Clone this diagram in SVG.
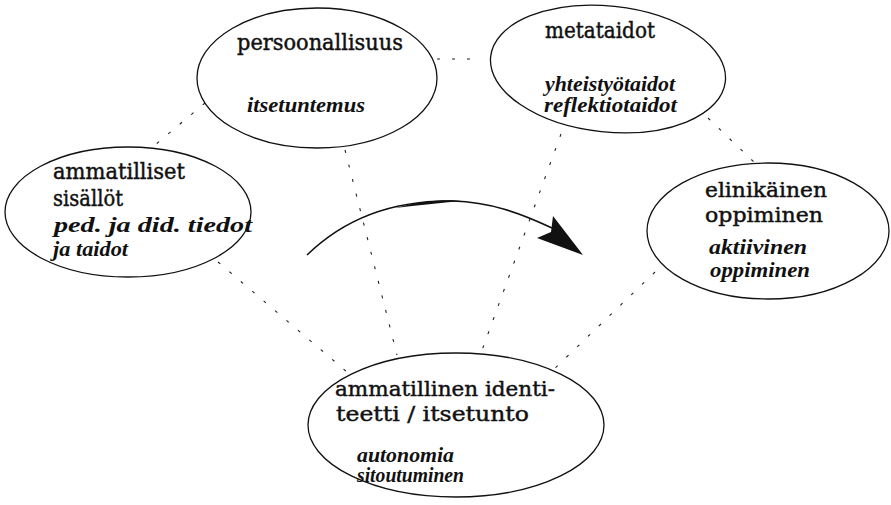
<svg xmlns="http://www.w3.org/2000/svg" width="891" height="505" viewBox="0 0 891 505">
<style>
.node ellipse{fill:none;stroke:#111;stroke-width:1.3}
.h{font-family:"DejaVu Serif","Liberation Serif",serif;font-size:22px;fill:#111;stroke:#111;stroke-width:0.45}
.h2{font-size:20.5px}
.s{font-family:"Liberation Serif","DejaVu Serif",serif;font-style:italic;font-weight:bold;font-size:20px;fill:#111}
.dot{fill:none;stroke:#222;stroke-width:1.1;stroke-dasharray:3 12}
</style>
<rect width="891" height="505" fill="#fff"/>
<g id="connectors">
<line class="dot" x1="205" y1="103" x2="155" y2="145"/>
<line class="dot" x1="437" y1="59" x2="480" y2="59"/>
<line class="dot" x1="345" y1="150" x2="397" y2="355"/>
<line class="dot" x1="561" y1="134" x2="481" y2="353"/>
<line class="dot" x1="218" y1="262" x2="347" y2="372"/>
<line class="dot" x1="708" y1="118" x2="756" y2="164"/>
<line class="dot" x1="655" y1="272" x2="550" y2="373"/>
</g>
<g id="arrow">
<path d="M307,255 C345,218 395,200 453,201 C490,202 520,213 552,228" fill="none" stroke="#111" stroke-width="1.6"/>
<path d="M395,208 C420,201 445,199 462,201 C440,203 418,205 395,208 Z" fill="#111"/>
<polygon points="553,216 583,255 537,238 551,232" fill="#111"/>
</g>
<g id="persoonallisuus" class="node">
<ellipse cx="317" cy="78" rx="120" ry="70"/>
<text class="h" x="237" y="50" textLength="166" lengthAdjust="spacingAndGlyphs">persoonallisuus</text>
<text class="s" x="247" y="112" textLength="118" lengthAdjust="spacingAndGlyphs">itsetuntemus</text>
</g>
<g id="metataidot" class="node">
<ellipse cx="608" cy="69" rx="118" ry="63" transform="rotate(6 608 69)"/>
<text class="h" x="545" y="38" textLength="110" lengthAdjust="spacingAndGlyphs">metataidot</text>
<text class="s" x="545" y="91" textLength="130" lengthAdjust="spacingAndGlyphs">yhteistyötaidot</text>
<text class="s" x="544" y="112" textLength="133" lengthAdjust="spacingAndGlyphs">reflektiotaidot</text>
</g>
<g id="ammatilliset" class="node">
<ellipse cx="128" cy="212" rx="123" ry="65"/>
<text class="h" x="53" y="179" textLength="132" lengthAdjust="spacingAndGlyphs">ammatilliset</text>
<text class="h" x="53" y="206" textLength="70" lengthAdjust="spacingAndGlyphs">sisällöt</text>
<text class="s" x="54" y="232" textLength="198" lengthAdjust="spacingAndGlyphs">ped. ja did. tiedot</text>
<text class="s" x="53" y="256" textLength="75" lengthAdjust="spacingAndGlyphs">ja taidot</text>
</g>
<g id="elinikainen" class="node">
<ellipse cx="768" cy="231" rx="121" ry="68"/>
<text class="h h2" x="705" y="197" textLength="122" lengthAdjust="spacingAndGlyphs">elinikäinen</text>
<text class="h h2" x="705" y="222" textLength="118" lengthAdjust="spacingAndGlyphs">oppiminen</text>
<text class="s" x="709" y="254" textLength="98" lengthAdjust="spacingAndGlyphs">aktiivinen</text>
<text class="s" x="710" y="277" textLength="100" lengthAdjust="spacingAndGlyphs">oppiminen</text>
</g>
<g id="identiteetti" class="node">
<ellipse cx="456" cy="425" rx="148" ry="72"/>
<text class="h h2" x="335" y="396" textLength="220" lengthAdjust="spacingAndGlyphs">ammatillinen identi-</text>
<text class="h h2" x="336" y="421" textLength="193" lengthAdjust="spacingAndGlyphs">teetti / itsetunto</text>
<text class="s" x="357" y="462" textLength="97" lengthAdjust="spacingAndGlyphs">autonomia</text>
<text class="s" x="357" y="482" textLength="107" lengthAdjust="spacingAndGlyphs">sitoutuminen</text>
</g>
</svg>
